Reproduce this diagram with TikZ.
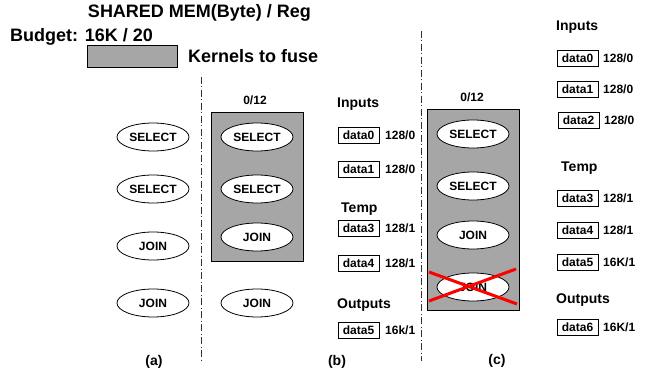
\documentclass[tikz,border=0pt]{standalone}
\usepackage{fontspec}
\setmainfont{Liberation Sans}
\usetikzlibrary{shapes.geometric}
\definecolor{fuse}{RGB}{166,166,166}
\begin{document}
\begin{tikzpicture}[x=1pt,y=-1pt,
  every node/.style={font=\bfseries},
  op/.style={ellipse,draw=black,fill=white,line width=0.8pt,minimum width=72pt,minimum height=28pt,inner sep=0pt,font=\fontsize{12}{12}\selectfont\bfseries},
  databox/.style={draw=black,line width=0.8pt,minimum width=41pt,minimum height=16pt,inner sep=0pt,font=\fontsize{12}{12}\selectfont\bfseries},
  val/.style={anchor=west,inner sep=0pt,font=\fontsize{12}{12}\selectfont\bfseries},
  head/.style={anchor=west,inner sep=0pt,font=\fontsize{14}{14}\selectfont\bfseries},
  big/.style={inner sep=0pt,font=\fontsize{18}{18}\selectfont\bfseries},
  sublabel/.style={inner sep=0pt,font=\fontsize{14}{14}\selectfont\bfseries},
  fusebox/.style={draw=black,fill=fuse,line width=0.8pt},
  sep/.style={draw=black!80,line width=0.9pt,dash pattern=on 7pt off 2.5pt on 1pt off 2.5pt},
  crossline/.style={draw=red,line width=3pt}]
\useasboundingbox (0,0) rectangle (645,374);
% header
\node[big] (title) at (199.5,13) {SHARED MEM(Byte) / Reg};
\node[big,anchor=west] (budget) at (10,37) {Budget: 16K / 20};
\draw[fusebox] (87,45) rectangle (177,67);
\node[big,anchor=west] (legend) at (188,56) {Kernels to fuse};
% separators
\coordinate (s1t) at (201,77); \coordinate (s1b) at (201,362);
\coordinate (s2t) at (421,31); \coordinate (s2b) at (421,361);
\draw[sep] (s1t) -- (s1b);
\draw[sep] (s2t) -- (s2b);
% column (a)
\node[op] (a1) at (153,137) {SELECT};
\node[op] (a2) at (153,189) {SELECT};
\node[op] (a3) at (153,246) {JOIN};
\node[op] (a4) at (153,303) {JOIN};
\node[sublabel] (la) at (154,362) {(a)};
% column (b)
\draw[fusebox] (211,112) rectangle (303,261);
\node[val,anchor=center] (bbud) at (255,100) {0/12};
\node[op] (b1) at (257,137) {SELECT};
\node[op] (b2) at (257,189) {SELECT};
\node[op] (b3) at (257,237) {JOIN};
\node[op] (b4) at (257,303) {JOIN};
\node[head] (bin) at (337,104) {Inputs};
\node[databox] (bd0) at (358.5,135) {data0};
\node[val] (bv0) at (385,135) {128/0};
\node[databox] (bd1) at (358.5,169) {data1};
\node[val] (bv1) at (385,169) {128/0};
\node[head] (btmp) at (341,209) {Temp};
\node[databox] (bd3) at (358.5,228) {data3};
\node[val] (bv3) at (385,228) {128/1};
\node[databox] (bd4) at (358.5,263) {data4};
\node[val] (bv4) at (385,263) {128/1};
\node[head] (bout) at (337,305) {Outputs};
\node[databox] (bd5) at (358.5,330) {data5};
\node[val] (bv5) at (385,330) {16k/1};
\node[sublabel] (lb) at (337,362) {(b)};
% column (c)
\draw[fusebox] (427,109) rectangle (519,310);
\node[val,anchor=center] (cbud) at (472,97) {0/12};
\node[op] (c1) at (473,134) {SELECT};
\node[op] (c2) at (473,186) {SELECT};
\node[op] (c3) at (473,235) {JOIN};
\node[op] (c4) at (473,287) {JOIN};
\coordinate (x1a) at (429,301); \coordinate (x1b) at (516,269);
\coordinate (x2a) at (429,272); \coordinate (x2b) at (517,304);
\draw[crossline] (x1a) -- (x1b);
\draw[crossline] (x2a) -- (x2b);
\node[sublabel] (lc) at (497,361) {(c)};
% right column
\node[head] (cin) at (556,27) {Inputs};
\node[databox] (cd0) at (577.5,58) {data0};
\node[val] (cv0) at (603,58) {128/0};
\node[databox] (cd1) at (577.5,89) {data1};
\node[val] (cv1) at (603,89) {128/0};
\node[databox] (cd2) at (578.5,120) {data2};
\node[val] (cv2) at (604,120) {128/0};
\node[head] (ctmp) at (561,168) {Temp};
\node[databox] (cd3) at (577.5,198) {data3};
\node[val] (cv3) at (603,198) {128/1};
\node[databox] (cd4) at (577.5,230) {data4};
\node[val] (cv4) at (603,230) {128/1};
\node[databox] (cd5) at (577.5,262) {data5};
\node[val] (cv5) at (603,262) {16K/1};
\node[head] (cout) at (556,300) {Outputs};
\node[databox] (cd6) at (577.5,327) {data6};
\node[val] (cv6) at (603,327) {16K/1};
\end{tikzpicture}
\end{document}
